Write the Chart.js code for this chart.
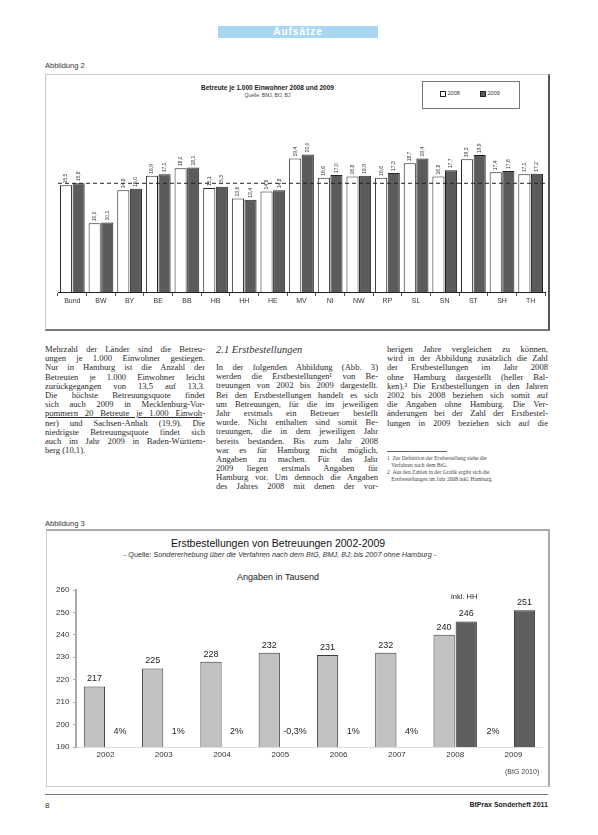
<!DOCTYPE html>
<html><head><meta charset="utf-8">
<script src="https://cdn.jsdelivr.net/npm/chart.js@4.4.1/dist/chart.umd.min.js"></script>
<style>
body{margin:0;background:#fff;}
#page{position:relative;width:598px;height:835px;overflow:hidden;font-family:"Liberation Sans",Arial,sans-serif;color:#222;background:#fff;}
.abs{position:absolute;}
.col{position:absolute;font-family:"Liberation Serif","DejaVu Serif",serif;font-size:8.6px;line-height:9.2px;color:#2a2a2a;}
.col div{text-align:justify;text-align-last:justify;height:9.2px;overflow:hidden;}
.col div.last{text-align-last:left;}
.fn{position:absolute;font-family:"Liberation Serif",serif;font-size:5.5px;line-height:7px;color:#444;}
</style></head>
<body><div id="page">

<div class="abs" style="left:218px;top:26px;width:160px;height:12px;background:#a9d6f0;color:#fff;font-weight:bold;font-size:10px;line-height:12px;text-align:center;letter-spacing:1px;">Aufsätze</div>

<div class="abs" style="left:45px;top:61px;font-size:7.5px;color:#333;">Abbildung 2</div>

<div class="abs" style="left:45px;top:74px;width:502px;height:254px;border:1px solid #c8c8c8;border-right:2px solid #555;border-bottom:2px solid #777;"></div>
<div class="abs" style="left:150px;top:84px;width:235px;text-align:center;font-size:6.5px;font-weight:bold;color:#222;">Betreute je 1.000 Einwohner 2008 und 2009</div>
<div class="abs" style="left:150px;top:92px;width:235px;text-align:center;font-size:5px;color:#444;">Quelle: BMJ, BfJ, BJ</div>
<div class="abs" style="left:422px;top:81px;width:96px;height:26px;border:1px solid #777;"></div>
<div class="abs" style="left:440px;top:90px;font-size:5.5px;color:#333;"><span style="display:inline-block;width:4px;height:4px;border:1px solid #222;background:#fff;vertical-align:middle;"></span> 2008</div>
<div class="abs" style="left:480px;top:90px;font-size:5.5px;color:#333;"><span style="display:inline-block;width:4px;height:4px;border:1px solid #222;background:#5b5b5b;vertical-align:middle;"></span> 2009</div>
<canvas id="c1" class="abs" style="left:45px;top:75px;" width="503" height="253"></canvas>

<div class="col" style="left:45px;top:345px;width:160px;">
<div>Mehrzahl der Länder sind die Betreu-</div>
<div>ungen je 1.000 Einwohner gestiegen.</div>
<div>Nur in Hamburg ist die Anzahl der</div>
<div>Betreuten je 1.000 Einwohner leicht</div>
<div>zurückgegangen von 13,5 auf 13,3.</div>
<div>Die höchste Betreuungsquote findet</div>
<div>sich auch 2009 in Mecklenburg-Vor-</div>
<div><span style="text-decoration:underline;">pommern 20 Betreute je 1.000 Einwoh</span>-</div>
<div>ner) und Sachsen-Anhalt (19,9). Die</div>
<div>niedrigste Betreuungsquote findet sich</div>
<div>auch im Jahr 2009 in Baden-Württem-</div>
<div class="last">berg (10,1).</div>
</div>

<div class="abs" style="left:216px;top:344px;font-family:'Liberation Serif',serif;font-style:italic;font-size:10.5px;color:#333;">2.1 Erstbestellungen</div>
<div class="col" style="left:216px;top:363px;width:162px;">
<div>In der folgenden Abbildung (Abb. 3)</div>
<div>werden die Erstbestellungen¹ von Be-</div>
<div>treuungen von 2002 bis 2009 dargestellt.</div>
<div>Bei den Erstbestellungen handelt es sich</div>
<div>um Betreuungen, für die im jeweiligen</div>
<div>Jahr erstmals ein Betreuer bestellt</div>
<div>wurde. Nicht enthalten sind somit Be-</div>
<div>treuungen, die in dem jeweiligen Jahr</div>
<div>bereits bestanden. Bis zum Jahr 2008</div>
<div>war es für Hamburg nicht möglich,</div>
<div>Angaben zu machen. Für das Jahr</div>
<div>2009 liegen erstmals Angaben für</div>
<div>Hamburg vor. Um dennoch die Angaben</div>
<div>des Jahres 2008 mit denen der vor-</div>
</div>

<div class="col" style="left:387px;top:345px;width:161px;">
<div>herigen Jahre vergleichen zu können,</div>
<div>wird in der Abbildung zusätzlich die Zahl</div>
<div>der Erstbestellungen im Jahr 2008</div>
<div>ohne Hamburg dargestellt (heller Bal-</div>
<div>ken).² Die Erstbestellungen in den Jahren</div>
<div>2002 bis 2008 beziehen sich somit auf</div>
<div>die Angaben ohne Hamburg. Die Ver-</div>
<div>änderungen bei der Zahl der Erstbestel-</div>
<div>lungen in 2009 beziehen sich auf die</div>
</div>
<div class="abs" style="left:387px;top:451px;width:60px;border-top:1px solid #666;"></div>
<div class="fn" style="left:387px;top:455px;width:160px;">1&nbsp;&nbsp;Zur Definition der Erstbestellung siehe die<br>&nbsp;&nbsp;&nbsp;Verfahren nach dem BtG.<br>2&nbsp;&nbsp;Aus den Zahlen in der Grafik ergibt sich die<br>&nbsp;&nbsp;&nbsp;Erstbestellungen im Jahr 2008 inkl. Hamburg.</div>

<div class="abs" style="left:45px;top:519px;font-size:7.5px;color:#333;">Abbildung 3</div>
<div class="abs" style="left:46px;top:529px;width:501px;height:255px;border:1px solid #ccc;border-top:2px solid #aaa;border-right:2px solid #aaa;"></div>
<div class="abs" style="left:100px;top:537px;width:356px;text-align:center;font-size:10.5px;color:#111;">Erstbestellungen von Betreuungen 2002-2009</div>
<div class="abs" style="left:80px;top:550px;width:400px;text-align:center;font-size:7.3px;color:#333;">- Quelle: <i>Sondererhebung über die Verfahren nach dem BtG, BMJ, BJ; bis 2007 ohne Hamburg</i> -</div>
<div class="abs" style="left:200px;top:572px;width:156px;text-align:center;font-size:9px;color:#222;">Angaben in Tausend</div>
<canvas id="c2" class="abs" style="left:47px;top:530px;" width="501" height="255"></canvas>
<div class="abs" style="left:505px;top:768px;font-size:7px;color:#444;">(BtG 2010)</div>

<div class="abs" style="left:45px;top:794px;width:503px;border-top:1px solid #777;"></div>
<div class="abs" style="left:45px;top:801px;font-size:8px;color:#333;">8</div>
<div class="abs" style="left:400px;top:801px;width:148px;text-align:right;font-size:7px;font-weight:bold;color:#222;">BtPrax Sonderheft 2011</div>
</div>

<script>
// ---- Abbildung 2: Betreute je 1.000 Einwohner ----
const laender = ["Bund","BW","BY","BE","BB","HB","HH","HE","MV","NI","NW","RP","SL","SN","ST","SH","TH"];
const betreute2008 = [15.5,10.0,14.8,16.9,18.0,15.1,13.6,14.6,19.4,16.6,16.8,16.6,18.7,16.8,19.3,17.4,17.1];
const betreute2009 = [15.8,10.1,15.0,17.1,18.1,15.3,13.4,14.8,20.0,17.0,16.9,17.3,19.4,17.7,19.9,17.6,17.2];

// ---- Abbildung 3: Erstbestellungen ----
const jahre = ["2002","2003","2004","2005","2006","2007","2008","2009"];
const ohneHamburg = [217,225,228,232,231,232,240,null];
const inklHamburg = [null,null,null,null,null,null,246,251];
const veraenderung = ["4%","1%","2%","-0,3%","1%","4%","2%"];
const yMin2 = 190, yMax2 = 260, yStep2 = 10;

Chart.defaults.font.family = '"Liberation Sans", Arial, sans-serif';
Chart.defaults.color = '#222';

const c1Plugin = {
  id: 'c1Plugin',
  afterDatasetsDraw(chart) {
    const ctx = chart.ctx;
    const ca = chart.chartArea;
    const yb = chart.scales.y.getPixelForValue(betreute2009[0]);
    ctx.save();
    ctx.strokeStyle = '#222'; ctx.lineWidth = 1; ctx.setLineDash([4, 3]);
    ctx.beginPath(); ctx.moveTo(ca.left, yb); ctx.lineTo(ca.right, yb); ctx.stroke();
    ctx.restore();
    ctx.save();
    ctx.font = '5px "Liberation Sans", Arial';
    ctx.fillStyle = '#333';
    chart.data.datasets.forEach((ds, di) => {
      chart.getDatasetMeta(di).data.forEach((bar, i) => {
        const txt = ds.data[i].toFixed(1).replace('.', ',');
        ctx.save();
        ctx.translate(bar.x, bar.y - 2);
        ctx.rotate(-Math.PI / 2);
        ctx.textAlign = 'left'; ctx.textBaseline = 'middle';
        ctx.fillText(txt, 0, 0);
        ctx.restore();
      });
    });
    ctx.restore();
  }
};

new Chart(document.getElementById('c1'), {
  type: 'bar',
  data: {
    labels: laender,
    datasets: [
      { label: '2008', data: betreute2008, backgroundColor: '#ffffff', borderColor: '#222', borderWidth: 1 },
      { label: '2009', data: betreute2009, backgroundColor: '#5b5b5b', borderColor: '#222', borderWidth: 1 }
    ]
  },
  options: {
    responsive: false, animation: false, devicePixelRatio: 1,
    layout: { padding: { left: 13, right: 3, top: 45, bottom: 21.6 } },
    datasets: { bar: { categoryPercentage: 0.88, barPercentage: 0.96 } },
    plugins: { legend: { display: false }, tooltip: { enabled: false } },
    scales: {
      x: {
        grid: { offset: true, drawOnChartArea: false, tickLength: 4, color: '#555' },
        border: { color: '#222', width: 1 },
        ticks: { font: { size: 7 }, padding: 1, color: '#333' }
      },
      y: { display: false, min: 0, max: 25 }
    }
  },
  plugins: [c1Plugin]
});

const c2Plugin = {
  id: 'c2Plugin',
  afterDatasetsDraw(chart) {
    const ctx = chart.ctx;
    const ca = chart.chartArea;
    const xs = chart.scales.x;
    ctx.save();
    ctx.font = '9px "Liberation Sans", Arial';
    ctx.fillStyle = '#222';
    ctx.textAlign = 'center'; ctx.textBaseline = 'bottom';
    chart.data.datasets.forEach((ds, di) => {
      chart.getDatasetMeta(di).data.forEach((bar, i) => {
        const v = ds.data[i];
        if (v === null || v === undefined) return;
        ctx.fillText(String(v), bar.x, bar.y - 3);
        if (di === 1 && ohneHamburg[i] !== null) {
          ctx.font = '7.5px "Liberation Sans", Arial';
          ctx.fillText('inkl. HH', bar.x - 2, bar.y - 21);
          ctx.font = '9px "Liberation Sans", Arial';
        }
      });
    });
    ctx.textBaseline = 'middle';
    const step = xs.getPixelForValue(1) - xs.getPixelForValue(0);
    veraenderung.forEach((t, i) => {
      let x;
      if (ohneHamburg[i + 1] === null) x = xs.getPixelForValue(i + 1) - 0.35 * step;
      else x = xs.getPixelForValue(i) + 0.25 * step;
      ctx.fillText(t, x, ca.bottom - 15);
    });
    ctx.restore();
  }
};

new Chart(document.getElementById('c2'), {
  type: 'bar',
  data: {
    labels: jahre,
    datasets: [
      { label: 'ohne Hamburg', data: ohneHamburg, backgroundColor: '#c2c2c2', borderColor: '#3a3a3a', borderWidth: 1 },
      { label: 'inkl. Hamburg', data: inklHamburg, backgroundColor: '#5e5e5e', borderColor: '#2a2a2a', borderWidth: 1 }
    ]
  },
  options: {
    responsive: false, animation: false, devicePixelRatio: 1,
    layout: { padding: { left: 5, right: 5.4, top: 60, bottom: 22.4 } },
    datasets: { bar: { categoryPercentage: 0.76, barPercentage: 0.96 } },
    plugins: { legend: { display: false }, tooltip: { enabled: false } },
    scales: {
      x: {
        grid: { display: false, drawTicks: false },
        border: { color: '#ddd', width: 1 },
        ticks: { font: { size: 8 }, padding: 3, color: '#333' }
      },
      y: {
        min: yMin2, max: yMax2,
        grid: { drawOnChartArea: false, tickLength: 3, color: '#999' },
        border: { color: '#aaa', width: 2 },
        ticks: { stepSize: yStep2, font: { size: 8 }, padding: 4, color: '#333' }
      }
    }
  },
  plugins: [c2Plugin]
});
</script>
</body></html>
